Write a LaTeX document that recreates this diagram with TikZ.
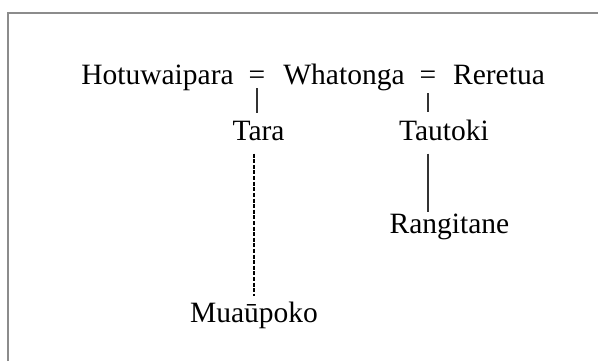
\documentclass[tikz,border=0pt]{standalone}
\usepackage{fontspec}
\setmainfont{Liberation Serif}

\begin{document}
\begin{tikzpicture}[x=0.5pt, y=-0.5pt,
  font=\fontsize{14.75}{18}\selectfont,
  person/.style={anchor=base, inner sep=0pt},
  descent/.style={draw=black!80, line width=0.7pt},
  unsure/.style={draw=black, line width=0.6pt, dash pattern=on 2pt off 0.8pt}]

\useasboundingbox (0,0) rectangle (598,361);

% frame
\draw[black!45, line width=1pt] (8,361) -- (8,13) -- (598,13);

% parents
\path
(157.5,84) node[person] (hotuwaipara) {Hotuwaipara}
(257,84) node[person] (eqA) {=}
(344,84) node[person] (whatonga) {Whatonga}
(428,84) node[person] (eqB) {=}
(499,84) node[person] (reretua) {Reretua}
;

% children
\path
(258.5,140) node[person] (tara) {Tara}
(444,140) node[person] (tautoki) {Tautoki}
(449.5,233) node[person] (rangitane) {Rangitane}
(254,322) node[person] (muaupoko) {Muaūpoko}
;

% lines of descent
\draw[descent, shorten <=2pt, shorten >=3.5pt] (eqA.south) -- (eqA.south |- tara.north) ;
\draw[descent, shorten <=4.5pt, shorten >=3.5pt] (eqB.south) -- (eqB.south |- tautoki.north) ;
\draw[descent, shorten <=6.5pt, shorten >=0.5pt] (eqB.south |- tautoki.south) -- (eqB.south |- rangitane.north) ;
\draw[unsure, shorten <=6.5pt, shorten >=2.5pt] (muaupoko.north |- tara.south) -- (muaupoko.north) ;

\end{tikzpicture}
\end{document}
